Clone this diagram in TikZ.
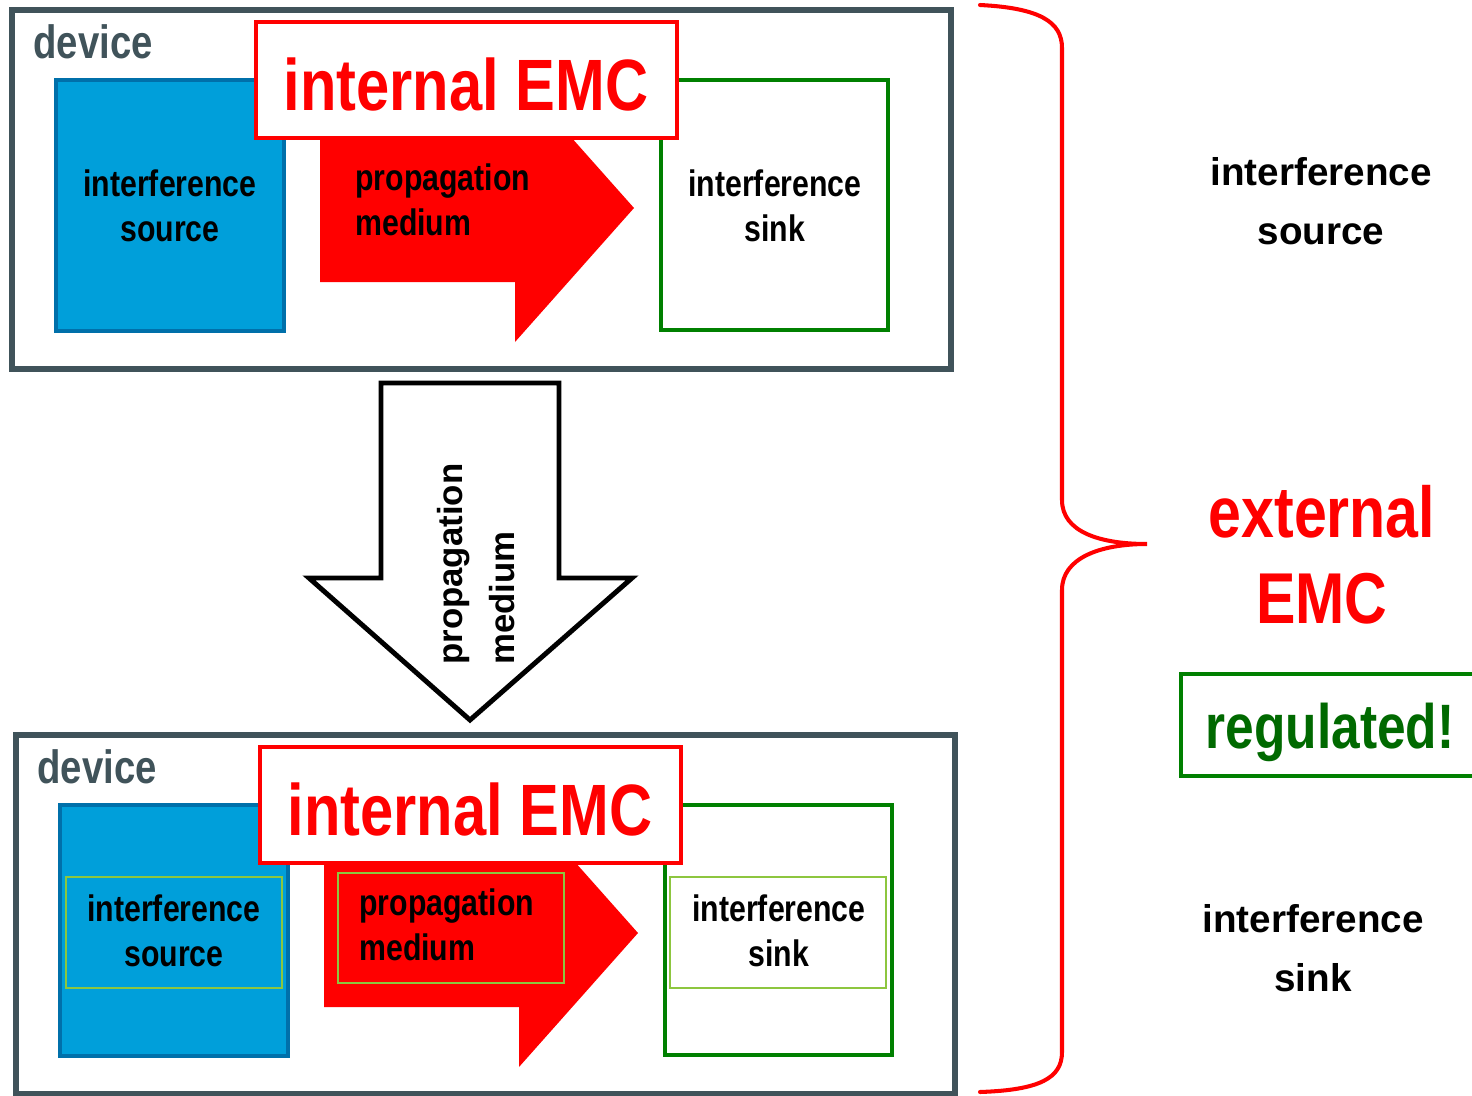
\documentclass[tikz,border=0pt]{standalone}
\usepackage{fontspec}
\setmainfont{Liberation Sans}
\newfontfamily\narrowfont[FakeStretch=0.82]{Liberation Sans}
\usetikzlibrary{positioning}
\definecolor{devgray}{RGB}{64,83,90}
\definecolor{srcblue}{RGB}{0,159,218}
\definecolor{srcedge}{RGB}{0,112,170}
\definecolor{emcred}{RGB}{255,0,0}
\definecolor{sinkgreen}{RGB}{0,128,0}
\definecolor{reggreen}{RGB}{0,105,0}
\definecolor{limeedge}{RGB}{141,198,63}
\tikzstyle{devbox}=[draw=devgray,line width=3.4pt,fill=white]
\tikzstyle{srcbox}=[draw=srcedge,line width=2.3pt,fill=srcblue]
\tikzstyle{sinkbox}=[draw=sinkgreen,line width=2.3pt,fill=white]
\tikzstyle{emcbox}=[draw=emcred,line width=2.8pt,fill=white]
\tikzstyle{limebox}=[draw=limeedge,line width=0.85pt]
\tikzstyle{brace}=[draw=emcred,line width=2.3pt,line cap=round]
\tikzstyle{innertxt}=[font=\narrowfont\bfseries\fontsize{21}{25.5}\selectfont,
inner sep=0pt]
\tikzstyle{righttxt}=[font=\bfseries\fontsize{22}{33.4}\selectfont,
align=center,inner sep=0pt]

\begin{document}
\begin{tikzpicture}[x=0.02cm,y=-0.02cm,line join=miter]
  \useasboundingbox (0,0) rectangle (1472,1096);
  % the two devices
  \foreach \p/\dx/\dy in {a/0/0,b/4/725} {
    \begin{scope}[shift={(\dx,\dy)}]
      \draw[devbox] (12,10) rectangle (951,369);
      \node[anchor=base west,inner sep=0pt,text=devgray,
        font=\narrowfont\bfseries\fontsize{26.6}{30}\selectfont]
        (dev\p) at (33,58) {device};
      \draw[srcbox] (56,80) rectangle (284,331);
      \fill[emcred] (320,134) -- (515,134) -- (515,74) -- (634,208)
        -- (515,342) -- (515,282) -- (320,282) -- cycle;
      \draw[sinkbox] (661,80) rectangle (888,330);
      \draw[emcbox] (256,22) rectangle (677,138);
      \node[anchor=base,inner sep=0pt,text=emcred,
        font=\narrowfont\bfseries\fontsize{41.4}{45}\selectfont]
        (int\p) at (466,110) {internal EMC};
      \node[innertxt,align=center] (src\p) at (170,206) {interference\\source};
      \node[innertxt,align=left,anchor=west] (med\p) at (355,200)
        {propagation\\medium};
      \node[innertxt,align=center] (sink\p) at (775,206) {interference\\sink};
    \end{scope}
  }
  % inner frames, lower device only
  \draw[limebox] (66,877) rectangle (282,988);
  \draw[limebox] (338,873) rectangle (564,983);
  \draw[limebox] (670,877) rectangle (886,988);
  % coupling between the devices
  \draw[line width=2.8pt,fill=white] (381,383) -- (559,383) -- (559,578)
    -- (632,578) -- (470,720) -- (309,578) -- (381,578) -- cycle;
  \node[rotate=90,anchor=west,align=left,inner sep=0pt,
    font=\bfseries\fontsize{19.8}{29.5}\selectfont] (coup) at (476,665)
    {propagation\\medium};
  % brace
  \draw[brace] (980,5) .. controls (1040,8) and (1062,22) .. (1062,48)
    -- (1062,500) .. controls (1062,532) and (1100,544) .. (1147,544)
    .. controls (1100,544) and (1062,558) .. (1062,590)
    -- (1062,1052) .. controls (1062,1078) and (1040,1090) .. (980,1092);
  % right column
  \node[righttxt] (rsrc) at (1321,201) {interference\\source};
  \node[righttxt,text=emcred,
    font=\narrowfont\bfseries\fontsize{41}{48.8}\selectfont]
    (ext) at (1322,555) {external\\EMC};
  \draw[draw=sinkgreen,line width=2.3pt] (1181,674) rectangle (1495,776);
  \node[inner sep=0pt,text=reggreen,
    font=\narrowfont\bfseries\fontsize{35.7}{40}\selectfont]
    (reg) at (1330,732) {regulated!};
  \node[righttxt] (rsink) at (1313,948) {interference\\sink};
\end{tikzpicture}
\end{document}
